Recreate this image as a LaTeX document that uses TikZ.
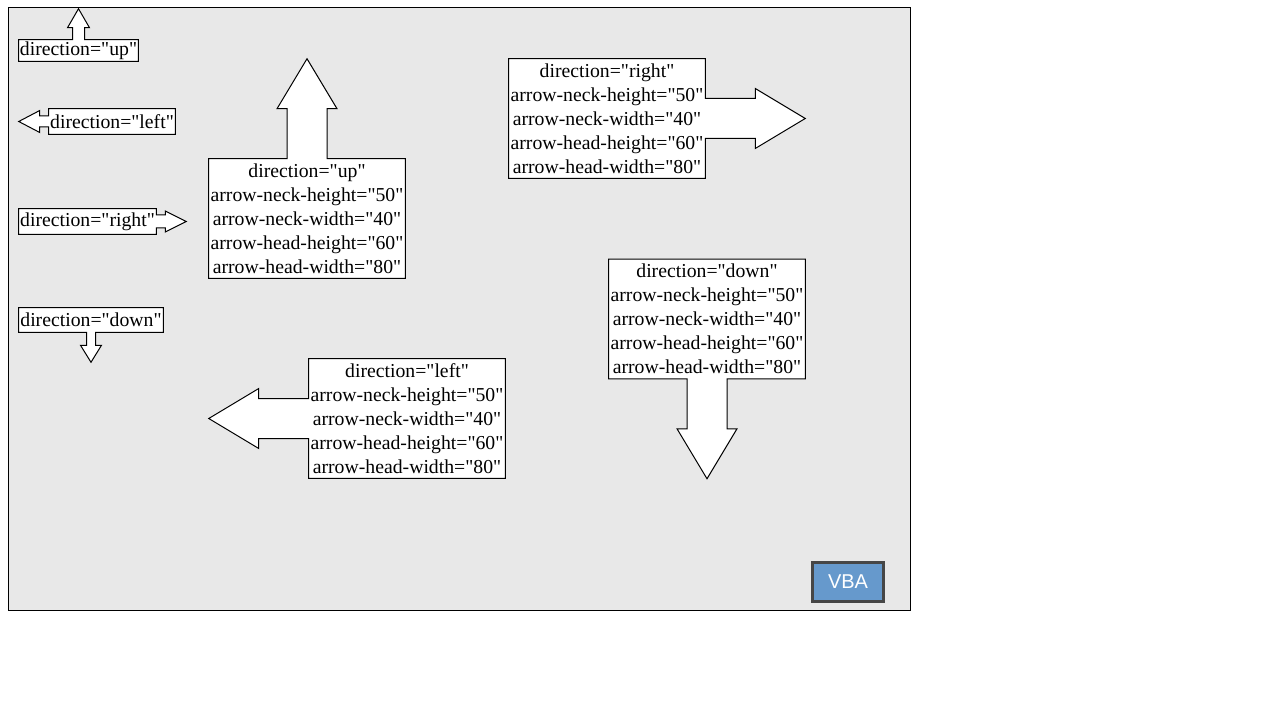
\documentclass[tikz,border=0pt]{standalone}
\usepackage{fontspec}
\setmainfont{Liberation Serif}[Ligatures=TeXOff]
\newfontfamily\btnfont{Liberation Sans}
\usetikzlibrary{calc,positioning}
\pgfdeclarelayer{back}
\pgfsetlayers{back,main}
\definecolor{panelgray}{RGB}{232,232,232}
\definecolor{btnblue}{RGB}{102,153,204}
\definecolor{btnedge}{RGB}{70,70,70}
\tikzstyle{callout} = [inner sep=0pt, rectangle, align=center,
    font=\fontsize{14.8}{18}\selectfont]
\tikzstyle{bigcallout} = [callout, minimum width=147pt, minimum height=89.25pt]
\tikzstyle{outline} = [draw=black, fill=white, line width=0.75pt]
\begin{document}
\begin{tikzpicture}[x=0.75pt,y=-0.75pt]
\useasboundingbox (0,0) rectangle (1280,720);

% small callouts
\node (up_small) [callout,minimum width=89.25pt,minimum height=15.75pt] at (78.5,50.5) {direction="up"};
\node (left_small) [callout,minimum width=94.5pt,minimum height=18.75pt] at (112,121.5) {direction="left"};
\node (right_small) [callout,minimum width=102.75pt,minimum height=18.75pt] at (87.5,221.5) {\raisebox{-1.5pt}{direction="right"}};
\node (down_small) [callout,minimum width=108pt,minimum height=18pt] at (91,320) {\raisebox{-1pt}{direction="down"}};

% large callouts
\node (up_big) [bigcallout] at (307,218.5) {direction="up"\\arrow-neck-height="50"\\arrow-neck-width="40"\\arrow-head-height="60"\\arrow-head-width="80"};
\node (right_big) [bigcallout] at (607,118.5) {direction="right"\\arrow-neck-height="50"\\arrow-neck-width="40"\\arrow-head-height="60"\\arrow-head-width="80"};
\node (down_big) [bigcallout] at (707,319) {direction="down"\\arrow-neck-height="50"\\arrow-neck-width="40"\\arrow-head-height="60"\\arrow-head-width="80"};
\node (left_big) [bigcallout] at (407,418.5) {direction="left"\\arrow-neck-height="50"\\arrow-neck-width="40"\\arrow-head-height="60"\\arrow-head-width="80"};

\node (vba) [draw=btnedge,line width=2.25pt,fill=btnblue,text=white,inner sep=0pt,
    minimum width=53.5pt,minimum height=29.5pt,font=\btnfont\fontsize{15}{17}\selectfont] at (848,582) {VBA};

\begin{pgfonlayer}{back}
\fill[white] (0,0) rectangle (1280,720);
\draw[fill=panelgray,line width=0.75pt] (8,8) rectangle (910,610);

\draw[outline] (up_small.south west) -- (up_small.north west) -- ($(up_small.north)+(-6,0)$)
    -- ++(0,-12) -- ++(-5,0) -- ++(11,-19) -- ++(11,19) -- ++(-5,0) -- ++(0,12)
    -- (up_small.north east) -- (up_small.south east) -- cycle;
\draw[outline] (left_small.north east) -- (left_small.north west) -- ($(left_small.west)+(0,-5.5)$)
    -- ++(-9,0) -- ++(0,-5.5) -- ++(-21,11) -- ++(21,11) -- ++(0,-5.5) -- ++(9,0)
    -- (left_small.south west) -- (left_small.south east) -- cycle;
\draw[outline] (right_small.north west) -- (right_small.north east) -- ($(right_small.east)+(0,-6.5)$)
    -- ++(9,0) -- ++(0,-4) -- ++(21,10.5) -- ++(-21,10.5) -- ++(0,-4) -- ++(-9,0)
    -- (right_small.south east) -- (right_small.south west) -- cycle;
\draw[outline] (down_small.north west) -- (down_small.north east) -- (down_small.south east)
    -- ($(down_small.south)+(4.5,0)$) -- ++(0,13) -- ++(6,0) -- ++(-10.5,17) -- ++(-10.5,-17)
    -- ++(6,0) -- ++(0,-13) -- (down_small.south west) -- cycle;

\draw[outline] (up_big.south west) -- (up_big.north west) -- ($(up_big.north)+(-20,0)$)
    -- ++(0,-50) -- ++(-10,0) -- ++(30,-50) -- ++(30,50) -- ++(-10,0) -- ++(0,50)
    -- (up_big.north east) -- (up_big.south east) -- cycle;
\draw[outline] (right_big.north west) -- (right_big.north east) -- ($(right_big.east)+(0,-20)$)
    -- ++(50,0) -- ++(0,-10) -- ++(50,30) -- ++(-50,30) -- ++(0,-10) -- ++(-50,0)
    -- (right_big.south east) -- (right_big.south west) -- cycle;
\draw[outline] (down_big.north west) -- (down_big.north east) -- (down_big.south east)
    -- ($(down_big.south)+(20,0)$) -- ++(0,50) -- ++(10,0) -- ++(-30,50) -- ++(-30,-50)
    -- ++(10,0) -- ++(0,-50) -- (down_big.south west) -- cycle;
\draw[outline] (left_big.north east) -- (left_big.north west) -- ($(left_big.west)+(0,-20)$)
    -- ++(-50,0) -- ++(0,-10) -- ++(-50,30) -- ++(50,30) -- ++(0,-10) -- ++(50,0)
    -- (left_big.south west) -- (left_big.south east) -- cycle;
\end{pgfonlayer}
\end{tikzpicture}
\end{document}
